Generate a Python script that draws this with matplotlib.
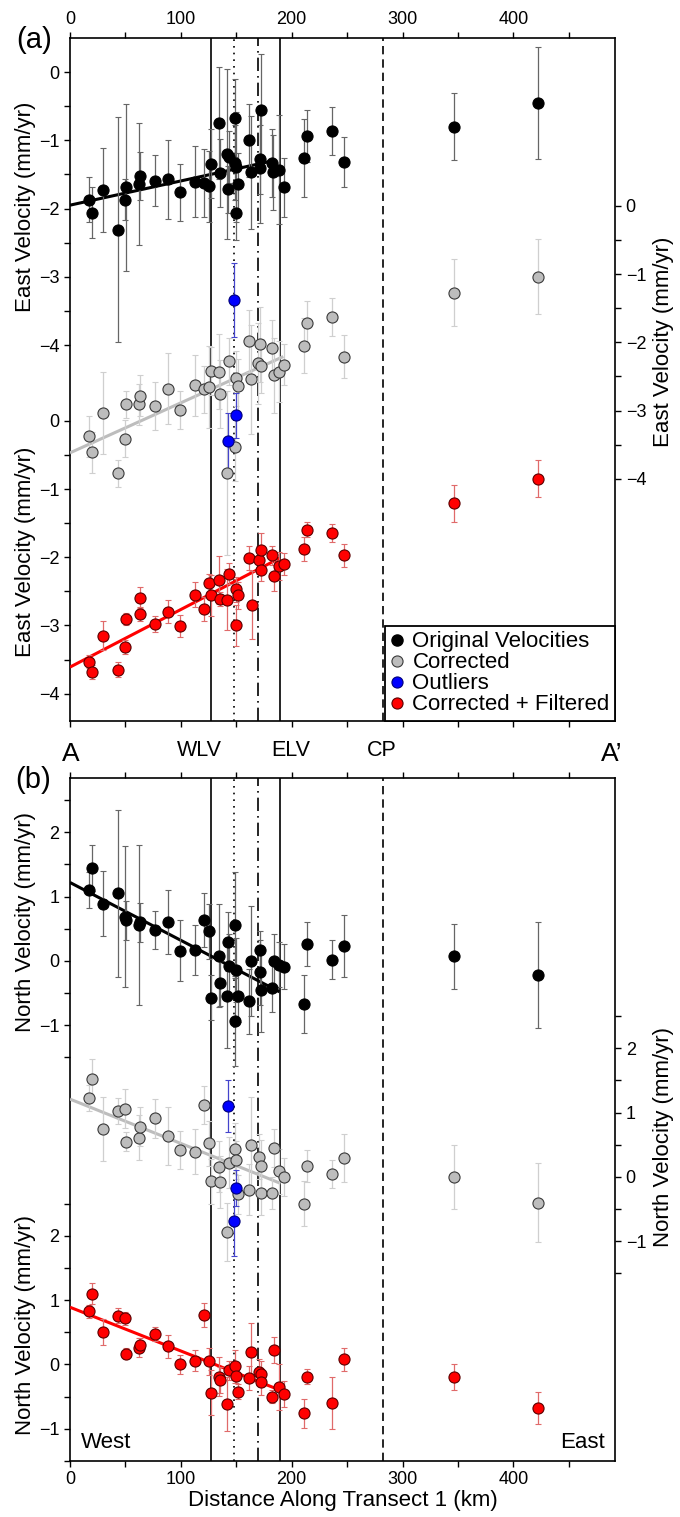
#!/usr/bin/env python3
"""
Transect 1 velocity profiles: east (a) and north (b) components,
original, corrected, outliers and corrected + filtered series.
"""

import numpy as np
import matplotlib
matplotlib.use('Agg')
import matplotlib.pyplot as plt
from matplotlib.lines import Line2D
from matplotlib.ticker import FixedLocator, MultipleLocator

plt.rcParams['font.family'] = ['Liberation Sans', 'DejaVu Sans']
plt.rcParams['axes.unicode_minus'] = True

# ---------------- (a) East component ----------------
east_orig_x = [17.4, 20.2, 30.2, 43.0, 49.4, 50.5, 62.3, 63.5, 77.0, 88.2, 99.3, 113.1, 121.2, 125.2,
               127.0, 134.2, 135.7, 141.6, 142.3, 143.5, 148.6, 149.2, 149.8, 150.0, 151.3, 161.8,
               163.0, 171.2, 171.5, 172.4, 182.0, 183.0, 189.0, 192.8, 211.2, 214.2, 236.2, 247.6,
               346.9, 422.1]
east_orig_v = [-1.87, -2.06, -1.73, -2.31, -1.87, -1.69, -1.64, -1.52, -1.59, -1.57, -1.76, -1.61,
               -1.63, -1.67, -1.34, -0.75, -1.48, -1.20, -1.72, -1.25, -0.67, -1.33, -1.39, -2.06,
               -1.64, -1.00, -1.47, -1.28, -1.41, -0.56, -1.33, -1.47, -1.43, -1.69, -1.26, -0.94,
               -0.86, -1.32, -0.80, -0.45]
east_orig_e = [0.33, 0.37, 0.62, 1.65, 0.30, 1.23, 0.90, 0.35, 0.37, 0.58, 0.42, 0.52, 0.50, 0.52,
               0.50, 0.82, 0.50, 1.25, 0.35, 0.38, 0.57, 0.55, 0.80, 0.40, 0.45, 0.54, 0.83, 0.50,
               0.80, 0.83, 0.50, 0.55, 0.80, 0.43, 0.57, 0.38, 0.35, 0.37, 0.49, 0.82]

east_corr_x = [17.4, 20.2, 30.2, 43.0, 49.4, 50.5, 62.3, 63.5, 77.0, 88.2, 99.3, 113.1, 121.2, 125.2,
               127.0, 134.2, 135.7, 141.5, 143.5, 149.0, 149.5, 151.3, 161.8, 163.7, 170.0, 171.5,
               172.7, 182.3, 184.1, 188.9, 192.8, 211.2, 214.2, 236.2, 247.6, 346.9, 422.1]
east_corr_v = [-3.38, -3.61, -3.03, -3.92, -3.41, -2.91, -2.91, -2.78, -2.93, -2.68, -2.99, -2.63,
               -2.69, -2.65, -2.42, -2.43, -2.76, -3.91, -2.28, -3.53, -2.53, -2.64, -1.98, -2.54,
               -2.31, -2.03, -2.35, -2.08, -2.48, -2.43, -2.33, -2.05, -1.72, -1.63, -2.21, -1.27,
               -1.04]
east_corr_e = [0.30, 0.30, 0.60, 0.20, 0.27, 0.20, 0.30, 0.30, 0.35, 0.52, 0.28, 0.45, 0.35, 0.60,
               0.35, 0.55, 0.50, 1.20, 0.35, 0.50, 0.40, 0.40, 0.45, 0.80, 0.60, 0.55, 0.40, 0.40,
               0.55, 0.45, 0.30, 0.40, 0.32, 0.28, 0.32, 0.49, 0.55]

east_outl_x = [142.3, 148.3, 150.1]
east_outl_v = [-3.44, -1.38, -3.07]
east_outl_e = [0.41, 0.54, 0.33]

east_filt_x = [17.4, 20.2, 30.1, 43.0, 49.4, 50.5, 62.9, 63.5, 77.0, 88.2, 99.3, 113.1, 121.2, 125.2,
               127.0, 134.2, 135.7, 142.0, 143.5, 149.5, 149.8, 151.3, 161.8, 164.2, 170.9, 172.1,
               172.7, 182.3, 184.4, 188.9, 192.8, 211.2, 214.2, 236.2, 247.6, 346.9, 422.1]
east_filt_v = [-3.53, -3.68, -3.15, -3.65, -3.32, -2.91, -2.59, -2.83, -2.98, -2.80, -3.01, -2.55,
               -2.76, -2.38, -2.56, -2.33, -2.61, -2.62, -2.24, -3.00, -2.47, -2.56, -2.01, -2.70,
               -2.04, -2.19, -1.89, -1.97, -2.27, -2.13, -2.10, -1.88, -1.60, -1.65, -1.97, -1.21,
               -0.85]
east_filt_e = [0.10, 0.10, 0.21, 0.11, 0.10, 0.09, 0.15, 0.10, 0.12, 0.17, 0.16, 0.18, 0.18, 0.13,
               0.30, 0.35, 0.10, 0.45, 0.15, 0.30, 0.18, 0.20, 0.18, 0.50, 0.20, 0.16, 0.25, 0.14,
               0.23, 0.20, 0.16, 0.17, 0.11, 0.13, 0.17, 0.27, 0.27]

# linear fits: intercept, slope (mm/yr/km), last km
east_fit_orig = (-1.95, 0.00355, 181.0)
east_fit_corr = (-3.62, 0.00733, 192.5)
east_fit_filt = (-3.61, 0.00844, 189.5)

# ---------------- (b) North component ----------------
north_orig_x = [17.4, 20.2, 30.2, 43.0, 49.4, 50.5, 62.3, 63.5, 77.0, 88.2, 99.3, 113.1, 121.2,
                125.2, 127.0, 134.2, 135.7, 141.6, 142.3, 143.5, 148.6, 149.0, 150.1, 151.3, 161.8,
                163.7, 171.2, 171.5, 172.4, 182.0, 184.1, 188.9, 192.8, 211.2, 214.2, 236.2, 247.6,
                346.9, 422.1]
north_orig_v = [1.10, 1.44, 0.89, 1.05, 0.69, 0.63, 0.56, 0.60, 0.48, 0.60, 0.16, 0.17, 0.64, 0.46,
                -0.57, 0.08, -0.35, -0.55, 0.30, -0.08, -0.94, 0.56, -0.14, -0.55, -0.63, 0.00,
                0.17, -0.18, -0.45, -0.42, 0.00, -0.06, -0.09, -0.67, 0.26, 0.02, 0.23, 0.07, -0.22]
north_orig_e = [0.28, 0.36, 0.51, 1.30, 1.10, 0.30, 1.25, 0.30, 0.30, 0.50, 0.48, 0.39, 0.42, 0.43,
                0.35, 0.80, 0.35, 0.80, 0.46, 0.50, 0.70, 0.82, 0.50, 0.40, 0.50, 0.85, 0.30, 0.50,
                0.65, 0.37, 0.42, 0.35, 0.35, 0.45, 0.34, 0.30, 0.48, 0.50, 0.83]

north_corr_x = [17.4, 20.2, 30.2, 43.0, 49.4, 50.5, 62.3, 63.5, 77.0, 88.2, 99.3, 113.1, 121.2,
                125.2, 127.0, 134.2, 135.7, 141.5, 143.5, 149.0, 149.8, 151.3, 161.8, 163.7, 170.9,
                172.1, 172.7, 182.3, 184.4, 188.9, 192.8, 211.2, 214.2, 236.2, 247.6, 346.9, 422.1]
north_corr_v = [1.23, 1.53, 0.75, 1.02, 1.06, 0.55, 0.61, 0.78, 0.91, 0.63, 0.42, 0.39, 1.12, 0.52,
                -0.07, 0.16, -0.08, -0.86, 0.22, 0.44, 0.26, -0.27, -0.20, 0.50, 0.31, 0.17, -0.25,
                -0.25, 0.45, 0.09, 0.00, -0.42, 0.17, 0.04, 0.29, 0.00, -0.40]
north_corr_e = [0.20, 0.30, 0.50, 0.20, 0.30, 0.15, 0.35, 0.30, 0.30, 0.45, 0.30, 0.35, 0.30, 0.35,
                0.35, 0.40, 0.40, 0.45, 0.40, 0.40, 0.30, 0.30, 0.40, 0.75, 0.35, 0.40, 0.35, 0.25,
                0.30, 0.35, 0.30, 0.35, 0.25, 0.22, 0.37, 0.50, 0.62]

north_outl_x = [142.3, 148.3, 150.1]
north_outl_v = [1.10, -0.68, -0.18]
north_outl_e = [0.40, 0.55, 0.28]

north_filt_x = [17.4, 20.2, 30.2, 43.0, 49.4, 50.5, 62.3, 63.5, 77.0, 88.2, 99.3, 113.1, 121.2,
                125.2, 127.0, 134.2, 135.7, 141.6, 143.5, 149.2, 149.8, 151.3, 161.8, 163.7, 170.9,
                172.1, 172.7, 182.3, 184.4, 188.9, 192.8, 211.2, 214.2, 236.2, 247.6, 346.9, 422.1]
north_filt_v = [0.83, 1.10, 0.51, 0.76, 0.72, 0.17, 0.26, 0.31, 0.47, 0.28, 0.00, 0.06, 0.77, 0.05,
                -0.44, -0.19, -0.24, -0.62, -0.09, -0.03, -0.18, -0.42, -0.21, 0.19, -0.12, -0.15,
                -0.27, -0.50, 0.23, -0.35, -0.46, -0.76, -0.19, -0.60, 0.08, -0.20, -0.67]
north_filt_e = [0.10, 0.16, 0.20, 0.12, 0.10, 0.08, 0.15, 0.10, 0.11, 0.18, 0.15, 0.16, 0.18, 0.21,
                0.35, 0.30, 0.20, 0.42, 0.15, 0.25, 0.10, 0.12, 0.18, 0.46, 0.20, 0.20, 0.20, 0.10,
                0.20, 0.35, 0.20, 0.22, 0.12, 0.40, 0.18, 0.20, 0.25]

north_fit_orig = (1.22, -0.0090, 189.0)
north_fit_corr = (1.21, -0.0069, 190.0)
north_fit_filt = (0.89, -0.0068, 190.0)

# structural boundaries along the transect (km)
wlv_km, elv_km = 127.5, 189.8
dotted_km, dashdot_km, cp_km = 147.7, 169.7, 282.0

legend_labels = ['Original Velocities', 'Corrected', 'Outliers', 'Corrected + Filtered']

W, H = 680, 1517
fig = plt.figure(figsize=(W / 100, H / 100), dpi=100)


def rect_px(left, top, right, bottom):
    return [left / W, 1 - bottom / H, (right - left) / W, (bottom - top) / H]


def add_series(ax, x, v, e, face, edge, ecolor):
    ax.errorbar(x, v, yerr=e, fmt='o', ms=8, mfc=face, mec=edge, mew=0.8,
                ecolor=ecolor, elinewidth=0.9, capsize=2.5, capthick=0.9, zorder=3)


def add_fit(ax, fit, color):
    b0, slope, x_end = fit
    xs = np.array([0.0, x_end])
    ax.plot(xs, b0 + slope * xs, color=color, lw=2.2, zorder=2, solid_capstyle='butt')


def y_ticks(ax, major, minor, side):
    ax.yaxis.set_major_locator(FixedLocator(major))
    ax.yaxis.set_minor_locator(FixedLocator(minor))
    ax.tick_params(axis='y', which='both', direction='out', length=4, width=1.0,
                   labelsize=13, left=(side == 'left'), right=(side == 'right'),
                   labelleft=(side == 'left'), labelright=(side == 'right'))


def draw_panel(rect, series, fits, lims, major, minor, ylabel, lab_y, xlabels_top):
    orig, corr, outl, filt = series
    ax = fig.add_axes(rect)
    ax_g = ax.twinx()
    ax_r = ax.twinx()
    ax_r.yaxis.tick_left()
    ax_r.yaxis.set_label_position('left')
    for a in (ax_g, ax_r):
        for s in a.spines.values():
            s.set_visible(False)
    for s in ax.spines.values():
        s.set_linewidth(1.2)

    ax.set_xlim(0, 492)
    ax.set_ylim(*lims[0])
    ax_g.set_ylim(*lims[1])
    ax_r.set_ylim(*lims[2])

    # boundaries
    ax.axvline(wlv_km, color='black', lw=1.2, zorder=1)
    ax.axvline(elv_km, color='black', lw=1.2, zorder=1)
    ax.axvline(dotted_km, color='black', lw=1.2, ls=(0, (1, 3)), zorder=1)
    ax.axvline(dashdot_km, color='black', lw=1.2, ls=(0, (8, 3, 1, 3)), zorder=1)
    ax.axvline(cp_km, color='black', lw=1.2, ls=(0, (5, 3)), zorder=1)

    add_fit(ax, fits[0], 'black')
    add_series(ax, *orig, 'black', 'black', '#666666')
    add_fit(ax_g, fits[1], '#bdbdbd')
    add_series(ax_g, *corr, '#bdbdbd', '#3a3a3a', '#cfcfcf')
    add_series(ax_g, *outl, '#0000ff', '#00007a', '#4444cc')
    add_fit(ax_r, fits[2], '#ff0000')
    add_series(ax_r, *filt, '#ff0000', '#5a0000', '#e06a6a')

    y_ticks(ax, major, minor, 'left')
    y_ticks(ax_g, major, minor, 'right')
    y_ticks(ax_r, major, minor, 'left')

    ax.xaxis.set_major_locator(MultipleLocator(100))
    ax.xaxis.set_minor_locator(MultipleLocator(50))
    ax.tick_params(axis='x', which='both', direction='out', length=4, width=1.0, labelsize=13,
                   top=True, bottom=True, labeltop=xlabels_top, labelbottom=not xlabels_top)

    ax.set_ylabel(ylabel, fontsize=16)
    ax.yaxis.set_label_coords(-0.062, lab_y[0])
    ax_r.set_ylabel(ylabel, fontsize=16)
    ax_r.yaxis.set_label_coords(-0.062, lab_y[2])
    ax_g.set_ylabel(ylabel, fontsize=16)
    ax_g.yaxis.set_label_coords(1.07, lab_y[1])
    return ax, ax_g, ax_r


# (a) East
ax_a, ax_ag, ax_ar = draw_panel(
    rect_px(70, 38, 615.3, 721),
    [(east_orig_x, east_orig_v, east_orig_e), (east_corr_x, east_corr_v, east_corr_e),
     (east_outl_x, east_outl_v, east_outl_e), (east_filt_x, east_filt_v, east_filt_e)],
    [east_fit_orig, east_fit_corr, east_fit_filt],
    [(-9.51, 0.50), (-7.55, 2.46), (-4.40, 5.61)],
    [-4, -3, -2, -1, 0], [-3.5, -2.5, -1.5, -0.5],
    'East Velocity (mm/yr)', (0.753, 0.555, 0.247), True)

handles = [Line2D([], [], ls='none', marker='o', ms=8, mfc='black', mec='black'),
           Line2D([], [], ls='none', marker='o', ms=8, mfc='#bdbdbd', mec='#3a3a3a', mew=0.8),
           Line2D([], [], ls='none', marker='o', ms=8, mfc='#0000ff', mec='#00007a', mew=0.8),
           Line2D([], [], ls='none', marker='o', ms=8, mfc='#ff0000', mec='#5a0000', mew=0.8)]
leg = ax_ar.legend(handles, legend_labels, loc='lower right', bbox_to_anchor=(1, 0),
                   borderaxespad=0, fontsize=16, fancybox=False, edgecolor='black',
                   framealpha=1, handlelength=0.6, handletextpad=0.4, labelspacing=0.0,
                   borderpad=0.25)
leg.get_frame().set_linewidth(1.3)

# (b) North
ax_b, ax_bg, ax_br = draw_panel(
    rect_px(70, 777.7, 615.3, 1461),
    [(north_orig_x, north_orig_v, north_orig_e), (north_corr_x, north_corr_v, north_corr_e),
     (north_outl_x, north_outl_v, north_outl_e), (north_filt_x, north_filt_v, north_filt_e)],
    [north_fit_orig, north_fit_corr, north_fit_filt],
    [(-7.78, 2.85), (-4.42, 6.21), (-1.50, 9.12)],
    [-1, 0, 1, 2], [-1.5, -0.5, 0.5, 1.5, 2.5],
    'North Velocity (mm/yr)', (0.789, 0.474, 0.199), False)
ax_b.set_xlabel('Distance Along Transect 1 (km)', fontsize=16, labelpad=1)
ax_b.text(0.02, 0.012, 'West', transform=ax_b.transAxes, fontsize=16, ha='left', va='bottom')
ax_b.text(0.98, 0.012, 'East', transform=ax_b.transAxes, fontsize=16, ha='right', va='bottom')

# panel letters and section labels between the panels
fig.text(34 / W, 1 - 40 / H, '(a)', fontsize=21, ha='center', va='center')
fig.text(33 / W, 1 - 780 / H, '(b)', fontsize=21, ha='center', va='center')
fig.text(71 / W, 1 - 754 / H, 'A', fontsize=19, ha='center', va='center')
fig.text(612 / W, 1 - 754 / H, 'A\u2019', fontsize=19, ha='center', va='center')
for name, px in [('WLV', 199), ('ELV', 291), ('CP', 382)]:
    fig.text(px / W, 1 - 751 / H, name, fontsize=15.5, ha='center', va='center')

fig.savefig('out.png', dpi=100)
